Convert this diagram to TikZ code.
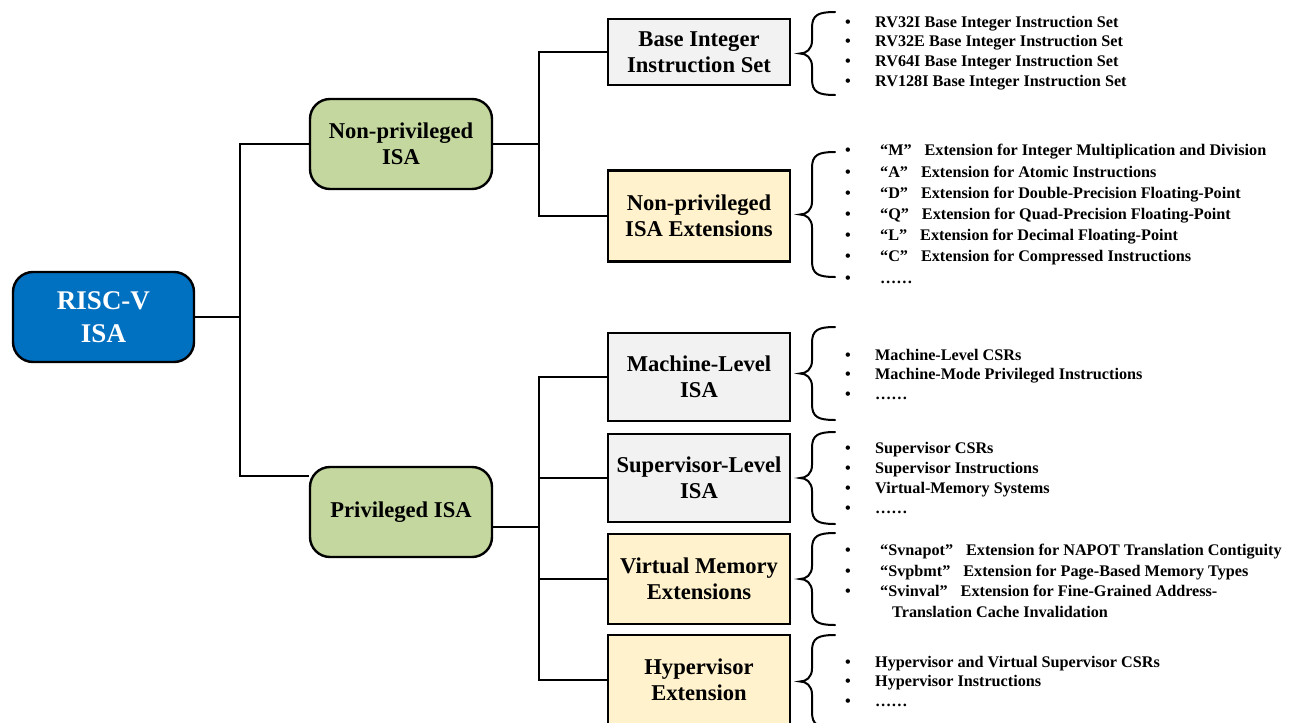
\documentclass[tikz,border=0pt]{standalone}
\usepackage{fontspec}
\setmainfont{Liberation Serif}
\definecolor{rootblue}{RGB}{0,112,192}
\definecolor{lvgreen}{RGB}{196,215,158}
\definecolor{lvgray}{RGB}{242,242,242}
\definecolor{lvyellow}{RGB}{255,242,204}
\newcommand\itm{\makebox[30pt][l]{•}}
\newcommand\qt[1]{\hspace{5pt}“#1”\hspace{13pt}}
\newcommand\mybrace[2]{%
  \draw[bracestyle] (835,#1) .. controls (818,#1) and (812,#1+3) .. (812,#1+16)
    -- (812,{(#1+#2)/2-13}) .. controls (812,{(#1+#2)/2-4}) and (806,{(#1+#2)/2}) .. (800,{(#1+#2)/2})
    .. controls (806,{(#1+#2)/2}) and (812,{(#1+#2)/2+4}) .. (812,{(#1+#2)/2+13})
    -- (812,#2-16) .. controls (812,#2-3) and (818,#2) .. (835,#2);}
\begin{document}
\begin{tikzpicture}[x=1pt,y=-1pt,
  boxbase/.style={draw=black, line width=2.4pt, inner sep=0pt, align=center,
    font=\bfseries\fontsize{22.6}{25.5}\selectfont, minimum width=182pt},
  rootbox/.style={boxbase, fill=rootblue, text=white, rounded corners=20pt,
    minimum width=181pt, minimum height=90pt, font=\bfseries\fontsize{27}{33}\selectfont},
  greenbox/.style={boxbase, fill=lvgreen, rounded corners=20pt, minimum height=90pt},
  graybox/.style={boxbase, fill=lvgray},
  yellowbox/.style={boxbase, fill=lvyellow},
  conn/.style={line width=2.4pt},
  itemlist/.style={anchor=west, inner sep=0pt, align=left},
  bracestyle/.style={line width=2pt, line cap=round}
]
\useasboundingbox (0,0) rectangle (1294,723);
\fill[white] (0,0) rectangle (1294,723);

% boxes
\node[rootbox] (root) at (103.5,317) {RISC-V\\ISA};
\node[greenbox] (np) at (401,144) {Non-privileged\\ISA};
\node[greenbox] (p) at (401,512) {Privileged ISA};
\node[graybox, minimum height=66pt] (bis) at (699,52) {Base Integer\\Instruction Set};
\node[yellowbox, minimum height=91pt] (npe) at (699,216) {Non-privileged\\ISA Extensions};
\node[graybox, minimum height=88pt] (ml) at (699,377) {Machine-Level\\ISA};
\node[graybox, minimum height=88pt] (sl) at (699,478) {Supervisor-Level\\ISA};
\node[yellowbox, minimum height=90pt] (vm) at (699,579) {Virtual Memory\\Extensions};
\node[yellowbox, minimum height=90pt] (hv) at (699,680) {Hypervisor\\Extension};

% connectors
\coordinate (j1) at (240,317);
\coordinate (j2) at (539,144);
\coordinate (j3) at (539,527);
\draw[conn] (root.east) -- (j1);
\draw[conn] (np.west) -| (j1) |- ([yshift=36pt]p.west);
\draw[conn] (np.east) -- (j2);
\draw[conn] (bis.west) -| (j2) |- (npe.west);
\draw[conn] ([yshift=-15pt]p.east) -- (j3);
\draw[conn] (ml.west) -| (j3) |- (hv.west);
\draw[conn] (sl.west) -- (sl.west -| j3);
\draw[conn] (vm.west) -- (vm.west -| j3);

% braces
\mybrace{12}{95}
\mybrace{152}{277}
\mybrace{327}{420}
\mybrace{432}{524}
\mybrace{533}{625}
\mybrace{635}{728}

% lists
\node[itemlist, font=\bfseries\fontsize{16.2}{19.7}\selectfont] (l1) at (845,53) {%
\itm RV32I Base Integer Instruction Set\\
\itm RV32E Base Integer Instruction Set\\
\itm RV64I Base Integer Instruction Set\\
\itm RV128I Base Integer Instruction Set};

\node[itemlist, font=\bfseries\fontsize{16.2}{21.2}\selectfont] (l2) at (845,214) {%
\itm\qt{M}Extension for Integer Multiplication and Division\\
\itm\qt{A}Extension for Atomic Instructions\\
\itm\qt{D}Extension for Double-Precision Floating-Point\\
\itm\qt{Q}Extension for Quad-Precision Floating-Point\\
\itm\qt{L}Extension for Decimal Floating-Point\\
\itm\qt{C}Extension for Compressed Instructions\\
\itm\hspace{5pt}……};

\node[itemlist, font=\bfseries\fontsize{16.2}{19.5}\selectfont] (l3) at (845,374) {%
\itm Machine-Level CSRs\\
\itm Machine-Mode Privileged Instructions\\
\itm ……};

\node[itemlist, font=\bfseries\fontsize{16.2}{19.7}\selectfont] (l4) at (845,478) {%
\itm Supervisor CSRs\\
\itm Supervisor Instructions\\
\itm Virtual-Memory Systems\\
\itm ……};

\node[itemlist, font=\bfseries\fontsize{16.2}{20.7}\selectfont] (l5) at (845,581) {%
\itm\qt{Svnapot}Extension for NAPOT Translation Contiguity\\
\itm\qt{Svpbmt}Extension for Page-Based Memory Types\\
\itm\qt{Svinval}Extension for Fine-Grained Address-\\
\makebox[30pt][l]{}\hspace{17pt}Translation Cache Invalidation};

\node[itemlist, font=\bfseries\fontsize{16.2}{19.5}\selectfont] (l6) at (845,681) {%
\itm Hypervisor and Virtual Supervisor CSRs\\
\itm Hypervisor Instructions\\
\itm ……};
\end{tikzpicture}
\end{document}
